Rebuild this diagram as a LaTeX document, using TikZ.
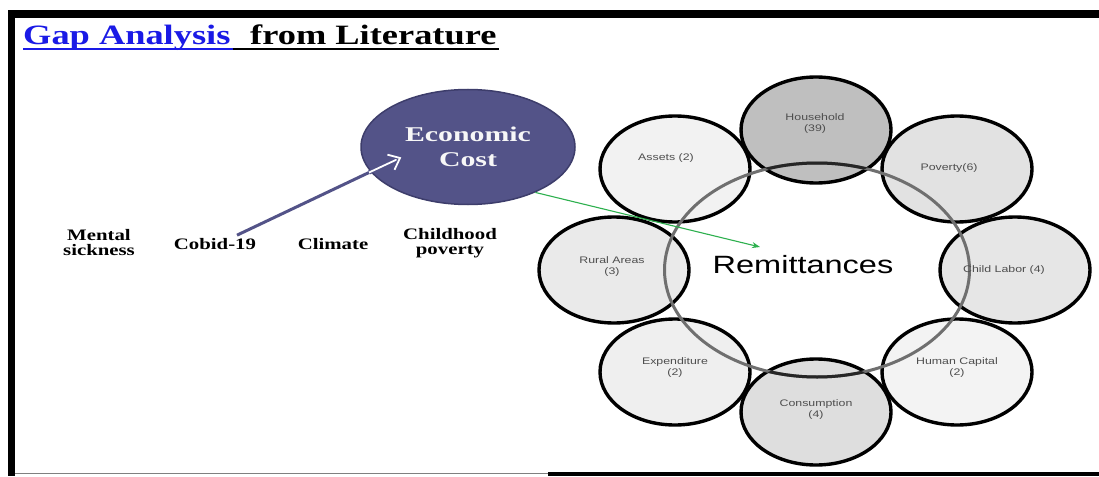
\documentclass[tikz,border=0pt]{standalone}
\usepackage{fontspec}
\usetikzlibrary{shapes.geometric,arrows.meta,calc}
\setmainfont{Liberation Serif}
\newfontfamily\titlefont[FakeStretch=1.3]{Liberation Serif}
\newfontfamily\econfont[FakeStretch=1.42]{Liberation Serif}
\newfontfamily\sansw[FakeStretch=1.3]{Liberation Sans}

\definecolor{linkblue}{HTML}{1A1AE6}
\definecolor{ecfill}{HTML}{535388}
\definecolor{ecedge}{HTML}{3D3D6B}
\definecolor{arrowgreen}{HTML}{2DB04E}
\definecolor{ringgray}{HTML}{6F6F6F}
\definecolor{bubtext}{HTML}{4E4E4E}
\definecolor{fillhh}{HTML}{BFBFBF}
\definecolor{fillas}{HTML}{F2F2F2}
\definecolor{fillpv}{HTML}{E2E2E2}
\definecolor{fillru}{HTML}{EAEAEA}
\definecolor{fillcl}{HTML}{E6E6E6}
\definecolor{fillex}{HTML}{EFEFEF}
\definecolor{fillhc}{HTML}{F3F3F3}
\definecolor{fillco}{HTML}{DEDEDE}

\tikzset{
  titletext/.style={font=\titlefont\bfseries\fontsize{28}{30}\selectfont, inner sep=0pt, anchor=base west},
  factor/.style={font=\titlefont\bfseries\fontsize{16}{15}\selectfont, align=center, inner sep=0pt, text=black},
  bubble/.style={ellipse, draw=black, line width=3.4pt, minimum width=150pt, minimum height=106pt, inner sep=0pt},
  bubtext/.style={font=\sansw\fontsize{9.5}{11}\selectfont, text=bubtext, align=center, inner sep=0pt},
  shaft/.style={draw=ecfill, line width=3pt},
  doubleshaft/.style={draw=ecfill, double=white, double distance=1.8pt, line width=1.2pt},
  barbs/.style={draw=ecfill, double=white, double distance=1.8pt, line width=1.2pt, line join=miter},
  greenarrow/.style={draw=arrowgreen, line width=1.1pt, -{Stealth[length=8pt,width=6pt]}}
}

\begin{document}
\begin{tikzpicture}[x=1pt, y=-1pt]
\useasboundingbox (0,0) rectangle (1099,476);
\fill[white] (0,0) rectangle (1099,476);

% frame
\fill[black] (8,10) rectangle (1099,18);
\fill[black] (8,10) rectangle (15,476);
\draw[gray, line width=1pt] (15,473) -- (548,473);
\fill[black] (548,472) rectangle (1099,476);

% title
\node[titletext, text=linkblue] (gap) at (23,45) {Gap Analysis};
\node[titletext, text=black] (lit) at (250,45) {from Literature};
\draw[linkblue, line width=1.8pt] ($(gap.base west)+(0,4)$) -- ($(gap.base east)+(2,4)$);
\draw[black, line width=1.8pt] ($(gap.base east)+(2,4)$) -- ($(lit.base east)+(2,4)$);

% factors
\node[factor] (mental) at (99,243) {Mental\\sickness};
\node[factor] (cobid) at (215,244) {Cobid-19};
\node[factor] (climate) at (333,244) {Climate};
\node[factor] (child) at (450,243) {Childhood\\poverty};

% economic cost
\node[ellipse, fill=ecfill, draw=ecedge, line width=1.5pt, minimum width=214pt, minimum height=115pt,
      inner sep=0pt, font=\econfont\bfseries\fontsize{21}{25}\selectfont, text=white!94!gray, align=center]
      (ec) at (468,147) {Economic\\Cost};

% bubbles around the ring
\node[bubble, fill=fillhh] (hh) at (816,130) {};
\node[bubble, fill=fillas] (as) at (675,169) {};
\node[bubble, fill=fillpv] (pv) at (957,169) {};
\node[bubble, fill=fillru] (ru) at (614,270) {};
\node[bubble, fill=fillcl] (cl) at (1015,270) {};
\node[bubble, fill=fillex] (ex) at (675,372) {};
\node[bubble, fill=fillhc] (hc) at (957,372) {};
\node[bubble, fill=fillco] (co) at (816,412) {};

% central ring
\node[ellipse, draw=ringgray, line width=3pt, minimum width=305pt, minimum height=214pt, inner sep=0pt] (ring) at (817,270) {};
\begin{scope}
  \clip (hh.center) ellipse [x radius=74, y radius=52];
  \draw[black!85, line width=3pt] (ring.center) ellipse [x radius=152.5, y radius=107];
\end{scope}
\begin{scope}
  \clip (co.center) ellipse [x radius=74, y radius=52];
  \draw[black!85, line width=3pt] (ring.center) ellipse [x radius=152.5, y radius=107];
\end{scope}
\node[font=\sansw\fontsize{25}{28}\selectfont, inner sep=0pt] (remit) at (803,265) {Remittances};

% bubble labels
\node[bubtext] (hhtext) at (815,124) {Household\\(39)};
\node[bubtext] (astext) at (666,158) {Assets (2)};
\node[bubtext] (pvtext) at (949,168) {Poverty(6)};
\node[bubtext] (rutext) at (612,267) {Rural Areas\\(3)};
\node[bubtext] (cltext) at (1004,270) {Child Labor (4)};
\node[bubtext] (extext) at (675,368) {Expenditure\\(2)};
\node[bubtext] (hctext) at (957,368) {Human Capital\\(2)};
\node[bubtext] (cotext) at (816,410) {Consumption\\(4)};

% Cobid-19 to economic cost: solid shaft ending in an open double-line head
\coordinate (dmid) at (369,172.5);
\coordinate (ectip) at (400,158);
\draw[shaft] ($(cobid.north)+(22,-3)$) -- (dmid);
\draw[doubleshaft] (dmid) -- ($(ectip)!2pt!(dmid)$);
\draw[barbs] ($(ectip)!13pt!-40:(dmid)$) -- (ectip) -- ($(ectip)!13pt!40:(dmid)$);

% economic cost to remittances
\coordinate (gtip) at (760,247);
\draw[greenarrow] (ec.-34) -- (gtip);
\end{tikzpicture}
\end{document}
